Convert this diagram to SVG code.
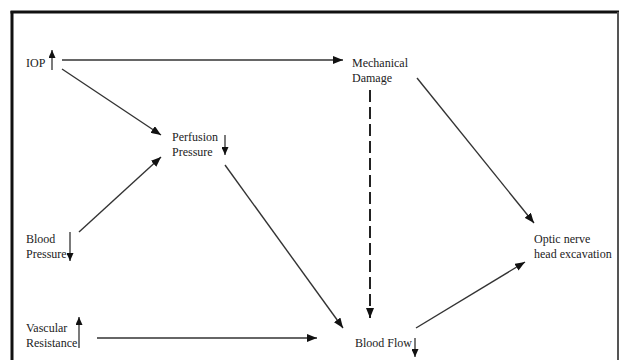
<svg xmlns="http://www.w3.org/2000/svg" width="620" height="360" viewBox="0 0 620 360">
<style>
text{font-family:"Liberation Serif","Times New Roman",serif;font-size:12px;fill:#222}
.c{stroke:#333;stroke-width:1.4;fill:none}
.d{stroke:#222;stroke-width:2;fill:none;stroke-dasharray:12 5}
.s{stroke:#222;stroke-width:1.2;fill:none}
</style>
<defs>
<marker id="a" markerUnits="userSpaceOnUse" markerWidth="10" markerHeight="8" refX="10" refY="4" orient="auto"><path d="M0,0 L10,4 L0,8 Z" fill="#111"/></marker>
<marker id="b" markerUnits="userSpaceOnUse" markerWidth="8" markerHeight="7" refX="8" refY="3.5" orient="auto"><path d="M0,0 L8,3.5 L0,7 Z" fill="#111"/></marker>
</defs>
<rect width="620" height="360" fill="#fff"/>
<g id="frame">
<line x1="12" y1="11" x2="12" y2="360" stroke="#111" stroke-width="3"/>
<line x1="10.5" y1="12" x2="619" y2="12" stroke="#111" stroke-width="3"/>
<line x1="618" y1="12" x2="618" y2="360" stroke="#555" stroke-width="2"/>
</g>
<g id="iop"><text x="26" y="67">IOP</text><line class="s" x1="52" y1="70" x2="52" y2="50" marker-end="url(#b)"/></g>
<g id="mechanical"><text x="352" y="67">Mechanical</text><text x="352" y="82">Damage</text></g>
<g id="perfusion"><text x="172" y="141">Perfusion</text><text x="172" y="156">Pressure</text><line class="s" x1="225" y1="135" x2="225" y2="155" marker-end="url(#b)"/></g>
<g id="bloodpressure"><text x="26" y="243">Blood</text><text x="26" y="258">Pressure</text><line class="s" x1="70" y1="232" x2="70" y2="261" marker-end="url(#b)"/></g>
<g id="optic"><text x="534" y="243">Optic nerve</text><text x="534" y="258">head excavation</text></g>
<g id="vascular"><text x="26" y="332">Vascular</text><text x="26" y="347">Resistance</text><line class="s" x1="79" y1="348" x2="79" y2="317" marker-end="url(#b)"/></g>
<g id="bloodflow"><text x="355" y="347">Blood Flow</text><line class="s" x1="415" y1="338" x2="415" y2="357" marker-end="url(#b)"/></g>
<g id="connectors">
<line class="c" x1="62" y1="60" x2="343" y2="60" marker-end="url(#a)"/>
<line class="c" x1="62" y1="69" x2="161" y2="135" marker-end="url(#a)"/>
<line class="c" x1="79" y1="232" x2="161" y2="157" marker-end="url(#a)"/>
<line class="c" x1="225" y1="165" x2="343" y2="328" marker-end="url(#a)"/>
<line class="d" x1="370" y1="90" x2="370" y2="318" marker-end="url(#a)"/>
<line class="c" x1="417" y1="78" x2="534" y2="223" marker-end="url(#a)"/>
<line class="c" x1="416" y1="328" x2="525" y2="262" marker-end="url(#a)"/>
<line class="c" x1="97" y1="338" x2="317" y2="338" marker-end="url(#a)"/>
</g>
</svg>
